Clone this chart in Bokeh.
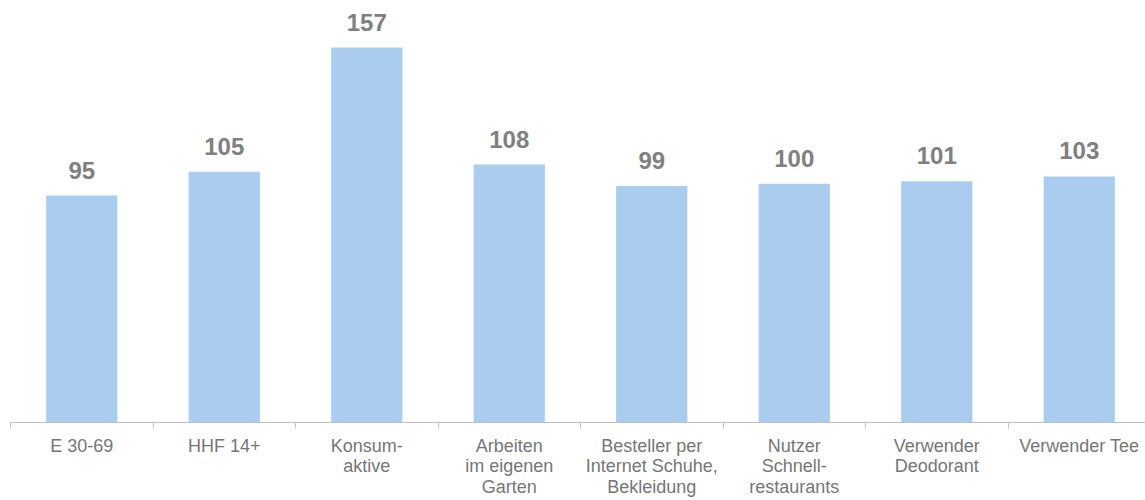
from bokeh.plotting import figure
from bokeh.models import FixedTicker, ColumnDataSource, LabelSet, Range1d
from bokeh.core.properties import value
from bokeh.embed import file_html
from bokeh.resources import INLINE

categories = ["E 30-69", "HHF 14+", "Konsum-\naktive", "Arbeiten\nim eigenen\nGarten",
              "Besteller per\nInternet Schuhe,\nBekleidung", "Nutzer\nSchnell-\nrestaurants",
              "Verwender\nDeodorant", "Verwender Tee"]
values = [95, 105, 157, 108, 99, 100, 101, 103]

n = len(categories)
centers = [i + 0.5 for i in range(n)]
bounds = [float(i) for i in range(n + 1)]

src = ColumnDataSource(dict(x=centers, top=values, lab=[str(v) for v in values]))

p = figure(width=1145, height=500, output_backend="svg", toolbar_location=None,
           x_range=Range1d(0, 1135 / 142.5), y_range=Range1d(0, 416 / 2.4),
           min_border_left=10, min_border_right=0, min_border_top=8, min_border_bottom=76,
           y_axis_location=None)
p.outline_line_color = None
p.xgrid.visible = False
p.ygrid.visible = False
p.background_fill_color = "white"

p.vbar(x="x", top="top", bottom=0, width=0.5, source=src, fill_color="#AACCEF", line_color=None)

labels = LabelSet(x="x", y="top", text="lab", source=src, y_offset=17, text_align="center",
                  text_baseline="alphabetic", text_font=value("Liberation Sans"),
                  text_font_style="bold", text_font_size="24px", text_color="#808080")
p.add_layout(labels)

ax = p.xaxis[0]
ax.ticker = FixedTicker(ticks=centers, minor_ticks=bounds)
ax.major_label_overrides = {c: lab for c, lab in zip(centers, categories)}
ax.axis_line_color = "#BFBFBF"
ax.axis_line_width = 1
ax.major_tick_line_color = None
ax.major_tick_in = 0
ax.major_tick_out = 0
ax.minor_tick_line_color = "#BFBFBF"
ax.minor_tick_in = 0
ax.minor_tick_out = 6
ax.major_label_standoff = 7
ax.major_label_text_font = "Liberation Sans"
ax.major_label_text_font_size = "18px"
ax.major_label_text_color = "#767676"
ax.major_label_text_font_style = "normal"
ax.major_label_text_line_height = 1.045

open("out.html", "w").write(file_html(p, INLINE))
